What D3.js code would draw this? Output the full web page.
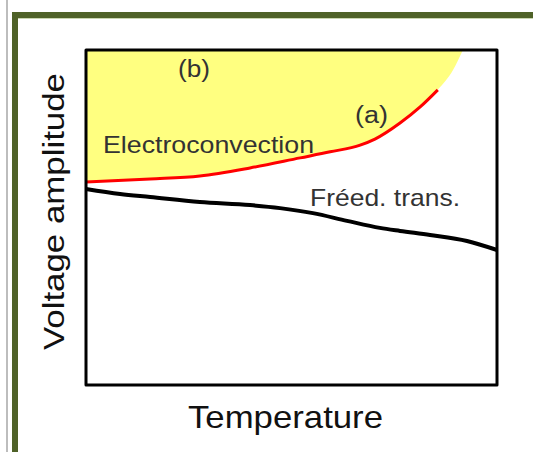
<!DOCTYPE html>
<html>
<head>
<meta charset="utf-8">
<script src="https://cdn.jsdelivr.net/npm/d3@7"></script>
<style>
  body { margin: 0; background: #fff; }
  svg text { font-family: "Liberation Sans", Arial, sans-serif; }
</style>
</head>
<body>
<div id="viz"></div>
<script>
"use strict";

// electroconvection threshold (a), temperature / voltage in arbitrary units 0..100
var ecTemp = [0, 15.6, 27.7, 39.9, 52.1, 59.4, 66.7, 70.3, 76.4, 81.3, 85.6];
var ecVolt = [60.6, 61.5, 62.4, 64.8, 67.8, 69.6, 71.6, 73.4, 78.2, 83.0, 88.1];
// where the yellow region keeps going past the end of the red line
var ecExtTemp = [89.3, 91.7];
var ecExtVolt = [94.0, 100];

// Freedericksz transition line
var frTemp = [0, 8.3, 15.6, 27.7, 39.9, 47.2, 55.2, 63.5, 71.5, 76.4, 83.7, 92.7, 100];
var frVolt = [58.5, 57.0, 56.1, 54.6, 53.7, 52.8, 51.3, 49.0, 46.9, 46.0, 44.8, 43.0, 40.3];

var width = 533, height = 452;
var box = {left: 86, top: 50, right: 497, bottom: 385};

var svg = d3.select("#viz").append("svg")
	.attr("width", width)
	.attr("height", height);

// page frame
svg.append("rect").attr("x", 6).attr("y", 0).attr("width", 2).attr("height", height).attr("fill", "#bdbdbd");
svg.append("rect").attr("x", 12).attr("y", 12).attr("width", width - 12).attr("height", 6).attr("fill", "#4f6228");
svg.append("rect").attr("x", 12).attr("y", 12).attr("width", 6).attr("height", height - 12).attr("fill", "#4f6228");
svg.append("rect").attr("x", 18).attr("y", 18).attr("width", width - 18).attr("height", 1).attr("fill", "#c9d6b0");

var x = d3.scaleLinear().domain([0, 100]).range([box.left, box.right]);
var y = d3.scaleLinear().domain([0, 100]).range([box.bottom, box.top]);

var zip = function(xs, ys) {
	return xs.map(function(v, i) { return [v, ys[i]] });
};

var line = d3.line()
	.x(function(d) { return x(d[0]) })
	.y(function(d) { return y(d[1]) })
	.curve(d3.curveMonotoneX);

// yellow area above the EC threshold
var ecPts = zip(ecTemp, ecVolt);
var fillPts = [[0, 100]].concat(ecPts, zip(ecExtTemp, ecExtVolt));
svg.append("path")
	.attr("d", line(fillPts) + "Z")
	.attr("fill", "#ffff80");

svg.append("path")
	.attr("d", line(ecPts))
	.attr("fill", "none")
	.attr("stroke", "#ff0000")
	.attr("stroke-width", 3);

svg.append("path")
	.attr("d", line(zip(frTemp, frVolt)))
	.attr("fill", "none")
	.attr("stroke", "#000")
	.attr("stroke-width", 4);

svg.append("rect")
	.attr("x", box.left).attr("y", box.top)
	.attr("width", box.right - box.left)
	.attr("height", box.bottom - box.top)
	.attr("fill", "none")
	.attr("stroke", "#000")
	.attr("stroke-width", 3)
	.attr("stroke-linejoin", "round");

var label = function(txt, px, py, size, len, color) {
	return svg.append("text")
		.attr("x", px).attr("y", py)
		.attr("font-size", size + "px")
		.attr("fill", color || "#333")
		.attr("textLength", len)
		.attr("lengthAdjust", "spacingAndGlyphs")
		.text(txt);
};

label("(b)", 178, 77, 23, 32);
label("(a)", 355, 123, 23, 33);
label("Electroconvection", 103, 153, 24, 211);
label("Fréed. trans.", 310, 206, 24, 150);
label("Temperature", 188, 428, 32, 195, "#111");

svg.append("text")
	.attr("transform", "translate(64,350) rotate(-90)")
	.attr("font-size", "30px")
	.attr("fill", "#111")
	.attr("textLength", 277)
	.attr("lengthAdjust", "spacingAndGlyphs")
	.text("Voltage amplitude");
</script>
</body>
</html>
